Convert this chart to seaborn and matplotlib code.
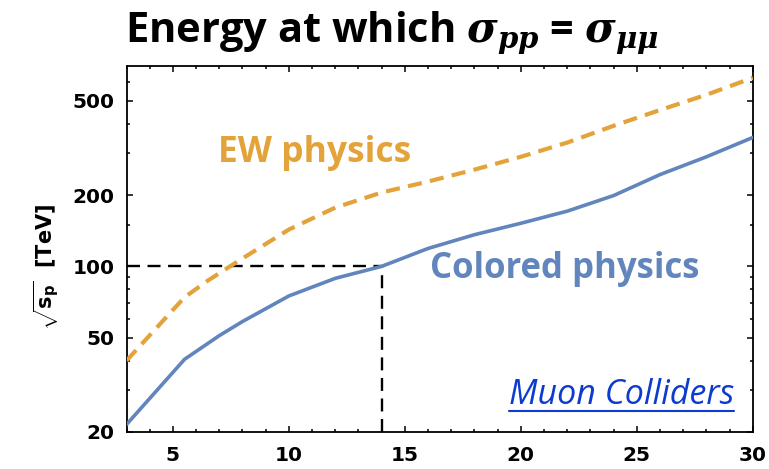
import numpy as np
import pandas as pd
import matplotlib
matplotlib.use("Agg")
import matplotlib.pyplot as plt
from matplotlib.ticker import FixedLocator, NullFormatter
from matplotlib.lines import Line2D
import seaborn as sns

# ---------------- data ----------------
colored_x = [3, 5.5, 7, 8, 10, 12, 14, 16, 18, 20, 22, 24, 26, 28, 30]
colored_y = [21.5, 40.5, 51, 58.5, 75, 89, 100, 119, 136, 152, 171, 199, 244, 290, 350]
ew_x = [3, 5.5, 6.5, 8, 10, 12, 14, 16, 18, 20, 22, 24, 26, 28, 30]
ew_y = [40, 74, 87, 108, 143, 177, 205, 228, 256, 290, 333, 392, 457, 530, 625]
ref_x = 14
ref_y = 100
x_ticks = [5, 10, 15, 20, 25, 30]
y_ticks = [20, 50, 100, 200, 500]
y_tick_labels = ["20", "50", "100", "200", "500"]
y_minor = [30, 40, 60, 70, 80, 90, 150, 300, 400, 600]
x_range = (3, 30)
y_range = (20, 700)

BLUE = "#6285BD"
ORANGE = "#E3A33A"
LINK = "#0B3BD0"

sns.set_theme(style="ticks")
plt.rcParams["font.family"] = ["DejaVu Sans"]
plt.rcParams["text.color"] = "black"
plt.rcParams["axes.labelcolor"] = "black"
plt.rcParams["xtick.color"] = "black"
plt.rcParams["ytick.color"] = "black"
plt.rcParams["mathtext.fontset"] = "custom"
plt.rcParams["mathtext.it"] = "DejaVu Serif:italic:bold"
plt.rcParams["mathtext.bf"] = "DejaVu Serif:italic:bold"
plt.rcParams["mathtext.rm"] = "DejaVu Sans:bold"

fig, ax = plt.subplots(figsize=(7.69, 4.69), dpi=100)
fig.subplots_adjust(left=0.1645, right=0.979, bottom=0.079, top=0.859)

df_col = pd.DataFrame({"x": colored_x, "y": colored_y})
df_ew = pd.DataFrame({"x": ew_x, "y": ew_y})

ax.set_yscale("log")
sns.lineplot(data=df_col, x="x", y="y", ax=ax, color=BLUE, linewidth=2.6,
             estimator=None, zorder=3)
sns.lineplot(data=df_ew, x="x", y="y", ax=ax, color=ORANGE, linewidth=3.0,
             estimator=None, linestyle=(0, (3.4, 2.0)), zorder=3)

ax.hlines(ref_y, xmin=x_range[0], xmax=ref_x, colors="black", linewidth=1.7,
          linestyles=[(0, (5.5, 3.2))], zorder=2)
ax.vlines(ref_x, ymin=y_range[0], ymax=ref_y, colors="black", linewidth=1.7,
          linestyles=[(0, (5.5, 3.2))], zorder=2)

ax.set_xlim(*x_range)
ax.set_ylim(*y_range)
ax.set_xlabel("")
ax.set_ylabel("")

ax.set_xticks(x_ticks)
ax.set_xticklabels([str(t) for t in x_ticks])
ax.xaxis.set_minor_locator(FixedLocator([v for v in range(x_range[0], x_range[1] + 1) if v % 5 != 0]))
ax.set_yticks(y_ticks)
ax.set_yticklabels(y_tick_labels)
ax.yaxis.set_minor_locator(FixedLocator(y_minor))
ax.yaxis.set_minor_formatter(NullFormatter())

ax.tick_params(which="both", direction="in", top=True, right=True,
               width=1.1, color="black")
ax.tick_params(which="major", length=4.5, labelsize=14.5, pad=8.5)
ax.tick_params(which="minor", length=2.2)
ax.tick_params(axis="x", which="major", pad=10)
for lab in ax.get_xticklabels() + ax.get_yticklabels():
    lab.set_fontweight("bold")
    lab.set_family("DejaVu Sans")
    lab.set_color("black")
for s in ax.spines.values():
    s.set_visible(True)
    s.set_linewidth(1.3)
    s.set_color("black")
ax.grid(False)

# annotations
ax.text(0.146, 0.738, "EW physics", transform=ax.transAxes, color=ORANGE,
        fontsize=25.5, fontweight="bold", family="Open Sans", ha="left", va="baseline")
ax.text(0.484, 0.42, "Colored physics", transform=ax.transAxes, color=BLUE,
        fontsize=25, fontweight="bold", family="Open Sans", ha="left", va="baseline")
mu = ax.text(0.611, 0.0765, "Muon Colliders", transform=ax.transAxes, color=LINK,
             fontsize=24.5, style="italic", family="Open Sans", ha="left", va="baseline")

fig.text(125 / 769, 1 - 42 / 469,
         r"Energy at which $\sigma_{pp}$ = $\sigma_{\mu\mu}$",
         fontsize=30, fontweight="bold", family="Open Sans", ha="left", va="baseline")

fig.text(46 / 769, 0.43, r"$\sqrt{\mathrm{s}_{\mathrm{p}}}$  [TeV]", rotation=90,
         fontsize=15, fontweight="bold", family="DejaVu Sans", ha="center", va="center")

fig.canvas.draw()
bb = mu.get_window_extent()
W, H = fig.get_size_inches() * fig.dpi
uy = (469 - 410.7) / 469
fig.add_artist(Line2D([bb.x0 / W, bb.x1 / W], [uy, uy], transform=fig.transFigure,
                      color=LINK, linewidth=1.5))

fig.savefig("out.png", dpi=100)
